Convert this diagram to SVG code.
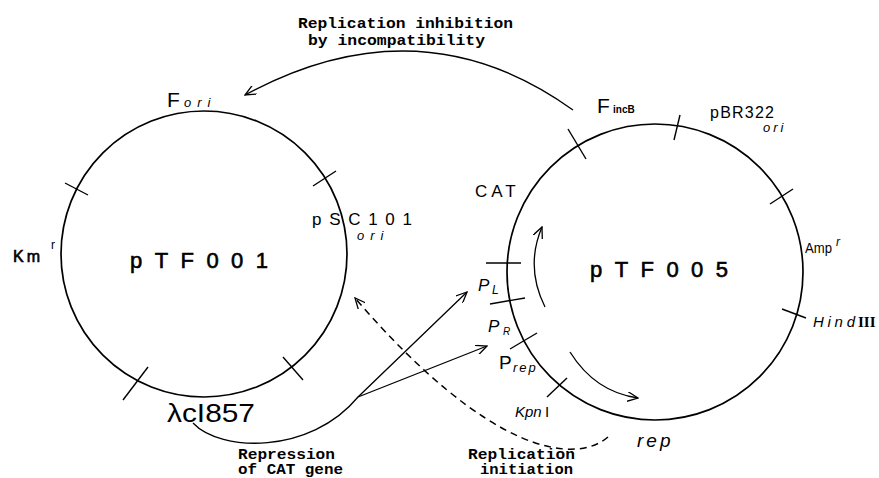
<svg xmlns="http://www.w3.org/2000/svg" width="879" height="478" viewBox="0 0 879 478">
<style>
.c{fill:none;stroke:#000;stroke-width:1.7}
.t{stroke:#000;stroke-width:1.4}
.ln{fill:none;stroke:#000;stroke-width:1.3}
.ds{fill:none;stroke:#000;stroke-width:1.5;stroke-dasharray:7 5}
.s{font-family:"Liberation Sans",Arial,sans-serif;fill:#000}
.b{font-family:"Liberation Sans",Arial,sans-serif;fill:#000;stroke:#000;stroke-width:0.6}
.i{font-family:"Liberation Sans",Arial,sans-serif;font-style:italic;fill:#000}
.m{font-family:"Liberation Mono","Courier New",monospace;font-weight:bold;fill:#000}
</style>
<defs>
<marker id="ah" viewBox="0 0 12 10" refX="11" refY="5" markerWidth="12" markerHeight="10" markerUnits="userSpaceOnUse" orient="auto">
<path d="M0,0 L11,5 L0,10" fill="none" stroke="#000" stroke-width="1.3"/>
</marker>
</defs>
<rect width="879" height="478" fill="#fff"/>

<g id="pTF001">
<circle class="c" cx="204" cy="254" r="143"/>
<line class="t" x1="65" y1="183" x2="88" y2="195"/>
<line class="t" x1="313" y1="186" x2="336" y2="171"/>
<line class="t" x1="123" y1="400" x2="148" y2="367"/>
<line class="t" x1="283" y1="357" x2="303" y2="380"/>
<text class="b" x="130" y="268" font-size="22" textLength="138" lengthAdjust="spacing">pTF001</text>
<text class="s" x="167" y="107" font-size="21">F</text>
<text class="i" x="184" y="107" font-size="13" letter-spacing="6">ori</text>
<text class="s" x="312" y="225" font-size="17" textLength="100" lengthAdjust="spacing">pSC101</text>
<text class="i" x="357" y="240" font-size="13" letter-spacing="6">ori</text>
<text class="b" x="13" y="262" font-size="16" letter-spacing="3">Km</text>
<text class="s" x="51" y="249" font-size="12">r</text>
<text class="s" x="167" y="422" font-size="25" textLength="88" lengthAdjust="spacingAndGlyphs">λcI857</text>
</g>

<g id="pTF005">
<circle class="c" cx="655" cy="272" r="148"/>
<line class="t" x1="568" y1="129" x2="586" y2="159"/>
<line class="t" x1="680" y1="115" x2="674" y2="140"/>
<line class="t" x1="770" y1="204" x2="793" y2="189"/>
<line class="t" x1="782" y1="309" x2="806" y2="318"/>
<line class="t" x1="486" y1="263" x2="521" y2="263"/>
<line class="t" x1="490" y1="304" x2="525" y2="298"/>
<line class="t" x1="510" y1="349" x2="537" y2="333"/>
<line class="t" x1="547" y1="397" x2="567" y2="378"/>
<path class="ln" d="M545,307 Q525,267 542,227" marker-end="url(#ah)"/>
<path class="ln" d="M570,352 Q595,392 638,398" marker-end="url(#ah)"/>
<text class="b" x="590" y="277" font-size="22" textLength="138" lengthAdjust="spacing">pTF005</text>
<text class="s" x="597" y="113" font-size="21">F</text>
<text class="s" x="613" y="113" font-size="10" font-weight="bold">incB</text>
<text class="s" x="710" y="118" font-size="16" textLength="64" lengthAdjust="spacing">pBR322</text>
<text class="i" x="763" y="132" font-size="13" letter-spacing="3">ori</text>
<text class="s" x="805" y="253" font-size="14" textLength="27" lengthAdjust="spacingAndGlyphs">Amp</text>
<text class="i" x="836" y="246" font-size="12">r</text>
<text class="i" x="813" y="327" font-size="15" textLength="42" lengthAdjust="spacing">Hind</text>
<text x="858" y="327" font-family="'Liberation Serif',serif" font-weight="bold" font-size="15">III</text>
<text class="s" x="475" y="197" font-size="17" letter-spacing="4">CAT</text>
<text class="i" x="478" y="291" font-size="17">P</text>
<text class="i" x="492" y="294" font-size="12">L</text>
<text class="i" x="488" y="332" font-size="17">P</text>
<text class="i" x="503" y="335" font-size="10">R</text>
<text class="s" x="499" y="369" font-size="19">P</text>
<text class="i" x="513" y="372" font-size="13" letter-spacing="2">rep</text>
<text class="i" x="515" y="417" font-size="15">Kpn</text>
<text class="s" x="545" y="417" font-size="15">I</text>
<text class="i" x="637" y="447" font-size="19" letter-spacing="3">rep</text>
</g>

<g id="connectors">
<path class="ln" d="M573,110 Q420,0 245,95" marker-end="url(#ah)"/>
<path class="ln" d="M193,423 C220,452 310,455 358,397 L467,292" marker-end="url(#ah)"/>
<path class="ln" d="M358,397 L487,346" marker-end="url(#ah)"/>
<path class="ds" d="M608,437 C575,465 490,455 355,298" marker-end="url(#ah)"/>
</g>

<g id="annotations">
<text class="m" x="298" y="28" font-size="15" textLength="215" lengthAdjust="spacingAndGlyphs">Replication inhibition</text>
<text class="m" x="308" y="45" font-size="15" textLength="177" lengthAdjust="spacingAndGlyphs">by incompatibility</text>
<text class="m" x="238" y="459" font-size="14" textLength="97" lengthAdjust="spacingAndGlyphs">Repression</text>
<text class="m" x="238" y="474" font-size="14" textLength="105" lengthAdjust="spacingAndGlyphs">of CAT gene</text>
<text class="m" x="468" y="459" font-size="14" textLength="107" lengthAdjust="spacingAndGlyphs">Replication</text>
<text class="m" x="480" y="474" font-size="14" textLength="93" lengthAdjust="spacingAndGlyphs">initiation</text>
</g>
</svg>
